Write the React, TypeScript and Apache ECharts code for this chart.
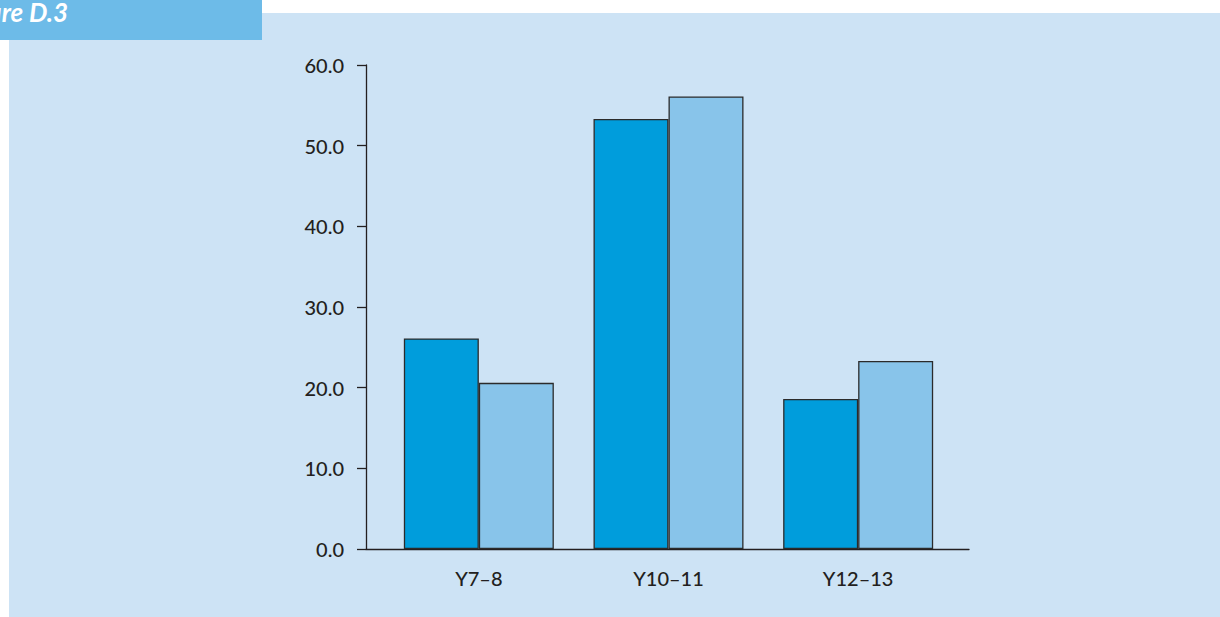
import React, { useEffect, useRef } from "react";
import * as echarts from "echarts";

const categories = ["Y7–8", "Y10–11", "Y12–13"];
const seriesA = [26.1, 53.3, 18.6];
const seriesB = [20.6, 56.1, 23.3];
const yTicks = { min: 0, max: 60, interval: 10 };
const figureLabel = "Figure D.3";

const DARK = "#009ddc";
const LIGHT = "#88c4ea";
const TEXT = "#231f20";
const FONT = "Lato, 'Open Sans', sans-serif";

export default function App() {
  const ref = useRef<HTMLDivElement>(null);
  useEffect(() => {
    if (!ref.current) return;
    const chart = echarts.init(ref.current, null, { renderer: "svg" });
    const yCommon = {
      type: "value" as const,
      min: yTicks.min,
      max: yTicks.max,
      interval: yTicks.interval,
    };
    chart.setOption({
      animation: false,
      backgroundColor: "#ffffff",
      graphic: [
        {
          type: "rect",
          left: 9,
          top: 13,
          shape: { width: 1211, height: 604 },
          style: { fill: "#cde3f5" },
          z: -10,
        },
        {
          type: "rect",
          left: 0,
          top: 0,
          shape: { width: 262, height: 40 },
          style: { fill: "#6dbbe8" },
          z: -5,
        },
        {
          type: "text",
          right: 1220 - 68,
          top: -1,
          style: {
            text: figureLabel,
            fill: "#ffffff",
            font: "italic bold 26px Lato, 'Open Sans', sans-serif",
          },
          z: 5,
        },
      ],
      grid: [
        { left: 366, right: 1220 - 969, top: 65, bottom: 617 - 549, containLabel: false },
        { left: 384, right: 1220 - 953, top: 65, bottom: 617 - 549, containLabel: false },
      ],
      xAxis: [
        {
          type: "category",
          gridIndex: 0,
          data: categories,
          axisLine: { show: true, lineStyle: { color: TEXT, width: 1.3 } },
          axisTick: { show: false },
          axisLabel: { show: false },
        },
        {
          type: "category",
          gridIndex: 1,
          data: categories,
          axisLine: { show: false },
          axisTick: { show: false },
          axisLabel: {
            show: true,
            color: TEXT,
            fontFamily: FONT,
            fontSize: 20,
            fontWeight: 500,
            margin: 19,
          },
        },
      ],
      yAxis: [
        {
          ...yCommon,
          gridIndex: 0,
          axisLine: { show: true, lineStyle: { color: TEXT, width: 1.3 } },
          axisTick: { show: true, length: 9, lineStyle: { color: TEXT, width: 1.3 } },
          splitLine: { show: false },
          axisLabel: {
            color: TEXT,
            fontFamily: FONT,
            fontSize: 20,
            fontWeight: 500,
            margin: 22,
            formatter: (v: number) => v.toFixed(1),
          },
        },
        {
          ...yCommon,
          gridIndex: 1,
          show: false,
          splitLine: { show: false },
        },
      ],
      series: [
        {
          type: "bar",
          xAxisIndex: 1,
          yAxisIndex: 1,
          data: seriesA,
          barWidth: 75,
          barGap: "0%",
          itemStyle: { color: DARK, borderColor: "#2b2b2b", borderWidth: 1.3 },
        },
        {
          type: "bar",
          xAxisIndex: 1,
          yAxisIndex: 1,
          data: seriesB,
          barWidth: 75,
          barGap: "0%",
          itemStyle: { color: LIGHT, borderColor: "#2b2b2b", borderWidth: 1.3 },
        },
      ],
    });
    return () => chart.dispose();
  }, []);
  return (
    <div
      ref={ref}
      style={{ position: "fixed", left: 0, top: 0, width: 1220, height: 617 }}
    />
  );
}
